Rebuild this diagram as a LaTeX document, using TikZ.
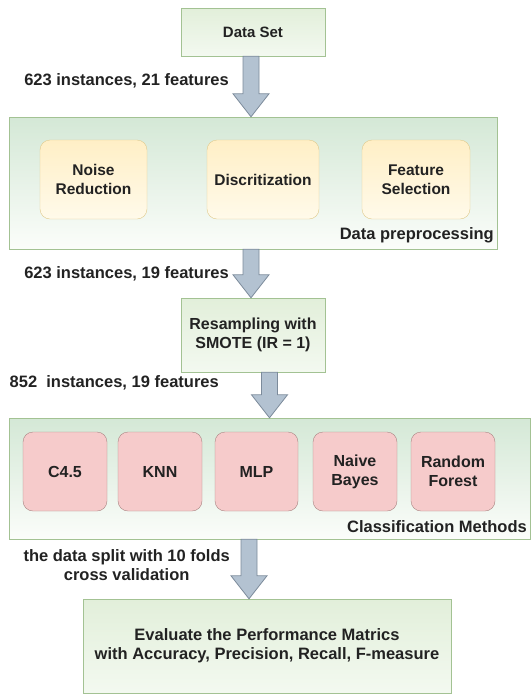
\documentclass[tikz,border=0pt]{standalone}
\usepackage{fontspec}
\setmainfont{Liberation Sans}
\usetikzlibrary{calc}

\definecolor{boxline}{HTML}{A3C293}
\definecolor{boxtop}{HTML}{E2EFDA}
\definecolor{boxbot}{HTML}{F3F9F0}
\definecolor{grptop}{HTML}{D4E8D6}
\definecolor{grpbot}{HTML}{FBFDFA}
\definecolor{yelline}{HTML}{E0CA8C}
\definecolor{yeltop}{HTML}{FFEFC6}
\definecolor{yelbot}{HTML}{FFFAEA}
\definecolor{redline}{HTML}{A98482}
\definecolor{redfill}{HTML}{F6CBCB}
\definecolor{arrfill}{HTML}{B3C2D1}
\definecolor{arrline}{HTML}{7C8B9B}
\definecolor{txt}{HTML}{222222}

\tikzset{
  plainbox/.style={draw=boxline, top color=boxtop, bottom color=boxbot, text=txt,
    font=\bfseries\fontsize{16}{19}\selectfont, align=center, inner sep=0pt},
  groupbox/.style={draw=boxline, top color=grptop, bottom color=grpbot, inner sep=0pt},
  prepbox/.style={draw=yelline, top color=yeltop, bottom color=yelbot, rounded corners=10pt,
    text=txt, font=\bfseries\fontsize{15.5}{18.5}\selectfont, align=center, inner sep=0pt,
    minimum width=107pt, minimum height=79pt},
  methbox/.style={draw=redline, fill=redfill, rounded corners=10pt, text=txt,
    font=\bfseries\fontsize{16}{19}\selectfont, align=center, inner sep=0pt,
    minimum width=84pt, minimum height=79pt},
  flowarr/.style={draw=arrline, fill=arrfill, line width=0.8pt, line join=miter},
  flowlabel/.style={text=txt, font=\bfseries\fontsize{16.5}{19}\selectfont, align=center, inner sep=0pt},
  grouplabel/.style={text=txt, font=\bfseries\fontsize{16.5}{19}\selectfont, inner sep=0pt}
}

% block arrow from #2 down to #3, shifted by #1 in x
\newcommand{\flowarrow}[3][0]{%
  \draw[flowarr] let \p1=(#2), \p2=(#3) in
    (\x2+#1pt-8pt,\y1) -- (\x2+#1pt-8pt,\y2-23pt) -- (\x2+#1pt-18pt,\y2-23pt) -- (\x2+#1pt,\y2)
    -- (\x2+#1pt+18pt,\y2-23pt) -- (\x2+#1pt+8pt,\y2-23pt) -- (\x2+#1pt+8pt,\y1) -- cycle;}

\begin{document}
\begin{tikzpicture}[x=1pt,y=1pt,yscale=-1,xscale=1]
\useasboundingbox (0,0) rectangle (532,697);

% input
\node[plainbox, minimum width=144pt, minimum height=48pt, font=\bfseries\fontsize{15}{18}\selectfont] (ds) at (253,32) {Data Set};

% preprocessing group
\node[groupbox, minimum width=488pt, minimum height=132pt] (prep) at (253,183) {};
\node[prepbox] (noise) at (93.5,179.5) {Noise\\Reduction};
\node[prepbox, minimum width=112pt] (disc) at (263,179.5) {Discritization};
\node[prepbox, minimum width=108pt] (fsel) at (416,179.5) {Feature\\Selection};
\node[grouplabel, anchor=east] (preplbl) at (494,235) {Data preprocessing};

% resampling
\node[plainbox, minimum width=144pt, minimum height=74pt] (smote) at (253,335) {Resampling with\\SMOTE (IR = 1)};

% classifiers group
\node[groupbox, minimum width=521pt, minimum height=121pt] (cls) at (269.5,478.5) {};
\node[methbox] (c45) at (65,471.5) {C4.5};
\node[methbox] (knn) at (160,471.5) {KNN};
\node[methbox, minimum width=83pt] (mlp) at (256.5,471.5) {MLP};
\node[methbox] (nb) at (355,471.5) {Naive\\Bayes};
\node[methbox] (rf) at (453,471.5) {Random\\Forest};
\node[grouplabel, anchor=east] (clslbl) at (527,527) {Classification Methods};

% evaluation
\node[plainbox, minimum width=368pt, minimum height=94pt, font=\bfseries\fontsize{16.5}{19}\selectfont] (eval) at (267,646) {Evaluate the Performance Matrics\\with Accuracy, Precision, Recall, F-measure};

% arrows
\flowarrow[-2]{ds.south}{prep.north}
\flowarrow[-2]{prep.south}{smote.north}
\flowarrow{smote.south}{cls.north}
\flowarrow[-18]{cls.south}{eval.north}

% arrow labels
\node[flowlabel, anchor=east] (lbl1) at (229,81) {623 instances, 21 features};
\node[flowlabel, anchor=east] (lbl2) at (229,274) {623 instances, 19 features};
\node[flowlabel, anchor=east] (lbl3) at (219,383) {852\ \ instances, 19 features};
\node[flowlabel, anchor=east] (lbl4) at (230,565) {the data split with 10 folds\\cross validation};
\end{tikzpicture}
\end{document}
